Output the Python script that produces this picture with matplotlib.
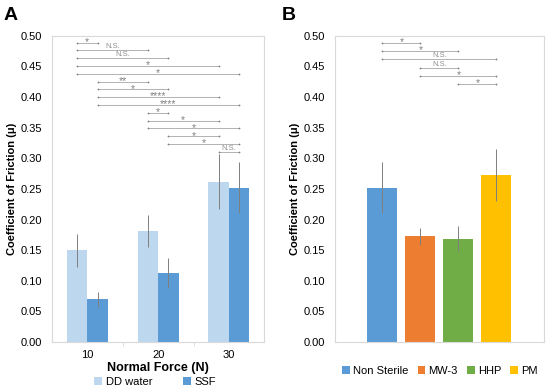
import numpy as np
import matplotlib.pyplot as plt

plt.rcParams['font.family'] = ['Liberation Sans', 'DejaVu Sans']

# Panel A data
forces = ['10', '20', '30']
dd_water = [0.150, 0.181, 0.262]
dd_water_err = [0.027, 0.026, 0.045]
ssf = [0.070, 0.113, 0.252]
ssf_err = [0.012, 0.025, 0.042]

# bars indexed 0..5: DD10, SSF10, DD20, SSF20, DD30, SSF30
sig_a_pairs = [(0, 1), (0, 2), (0, 3), (0, 4), (0, 5),
               (1, 2), (1, 3), (1, 4), (1, 5),
               (2, 3), (2, 4), (2, 5),
               (3, 4), (3, 5),
               (4, 5)]
sig_a_labels = ['*', 'N.S.', 'N.S.', '*', '*',
                '**', '*', '****', '****',
                '*', '*', '*',
                '*', '*',
                'N.S.']

# Panel B data
treatments = ['Non Sterile', 'MW-3', 'HHP', 'PM']
cof_b = [0.252, 0.173, 0.169, 0.273]
cof_b_err = [0.042, 0.014, 0.021, 0.043]
sig_b_pairs = [(0, 1), (0, 2), (0, 3), (1, 2), (1, 3), (2, 3)]
sig_b_labels = ['*', '*', 'N.S.', 'N.S.', '*', '*']

colors_a = ['#BDD7EE', '#5B9BD5']
colors_b = ['#5B9BD5', '#ED7D31', '#70AD47', '#FFC000']
grid_col = '#D9D9D9'
sig_col = '#A6A6A6'

fig = plt.figure(figsize=(5.5, 3.9), dpi=100)
ax1 = fig.add_axes([0.0945, 0.123, 0.386, 0.785])
ax2 = fig.add_axes([0.609, 0.123, 0.38, 0.785])


def style(ax):
    ax.set_ylim(0, 0.5)
    ax.set_yticks(np.arange(0, 0.51, 0.05))
    ax.set_yticklabels([f'{v:.2f}' for v in np.arange(0, 0.51, 0.05)], fontsize=8)
    for s in ax.spines.values():
        s.set_color(grid_col)
        s.set_linewidth(0.8)
    ax.tick_params(axis='y', length=0, pad=7)
    ax.set_ylabel('Coefficient of Friction (μ)', fontsize=8, fontweight='bold', labelpad=3)


def brackets(ax, xs, pairs, labels, y0, step):
    for i, ((a, b), lab) in enumerate(zip(pairs, labels)):
        y = y0 - i * step
        ax.plot([xs[a], xs[b]], [y, y], color=sig_col, lw=0.6)
        ax.plot([xs[a], xs[b]], [y, y], 'o', color='#808080', ms=1.3, mew=0)
        if lab == 'N.S.':
            ax.text((xs[a] + xs[b]) / 2, y, lab, ha='center', va='bottom',
                    fontsize=5.5, color='#909090')
        else:
            ax.text((xs[a] + xs[b]) / 2, y - 0.007, lab, ha='center', va='bottom',
                    fontsize=7.5, color='#808080')


leg_kw = dict(frameon=False, fontsize=8, handlelength=0.7, handleheight=0.7,
              handletextpad=0.3, borderaxespad=0, loc='center',
              bbox_transform=fig.transFigure)

# Panel A
x = np.arange(len(forces))
w = 0.29
ek = dict(ecolor='#7F7F7F', elinewidth=0.7, capsize=0)
ax1.bar(x - w / 2, dd_water, w, yerr=dd_water_err, color=colors_a[0], label='DD water', error_kw=ek)
ax1.bar(x + w / 2, ssf, w, yerr=ssf_err, color=colors_a[1], label='SSF', error_kw=ek)
ax1.set_xlim(-0.5, 2.5)
ax1.set_xticks(x)
ax1.set_xticklabels(forces, fontsize=8)
ax1.set_xticks([0.5, 1.5], minor=True)
ax1.tick_params(axis='x', which='major', length=0, pad=6)
ax1.tick_params(axis='x', which='minor', length=3, color=grid_col)
ax1.set_xlabel('Normal Force (N)', fontsize=9, fontweight='bold', labelpad=1)
style(ax1)
centers_a = [p for i in x for p in (i - w / 2, i + w / 2)]
brackets(ax1, centers_a, sig_a_pairs, sig_a_labels, 0.489, 0.01275)
ax1.legend(ncol=2, columnspacing=2.8, bbox_to_anchor=(0.282, 0.02), **leg_kw)
fig.text(0.006, 0.96, 'A', fontsize=14, fontweight='bold', va='center')

# Panel B
xb = np.arange(len(treatments))
for i in xb:
    ax2.bar(xb[i], cof_b[i], 0.79, yerr=cof_b_err[i], color=colors_b[i],
            label=treatments[i], error_kw=ek)
ax2.set_xlim(-1.25, 4.25)
ax2.set_xticks([])
style(ax2)
brackets(ax2, xb, sig_b_pairs, sig_b_labels, 0.489, 0.0136)
ax2.legend(ncol=4, columnspacing=0.8, bbox_to_anchor=(0.8, 0.05), **leg_kw)
fig.text(0.513, 0.96, 'B', fontsize=14, fontweight='bold', va='center')

fig.savefig('out.png', dpi=100)
